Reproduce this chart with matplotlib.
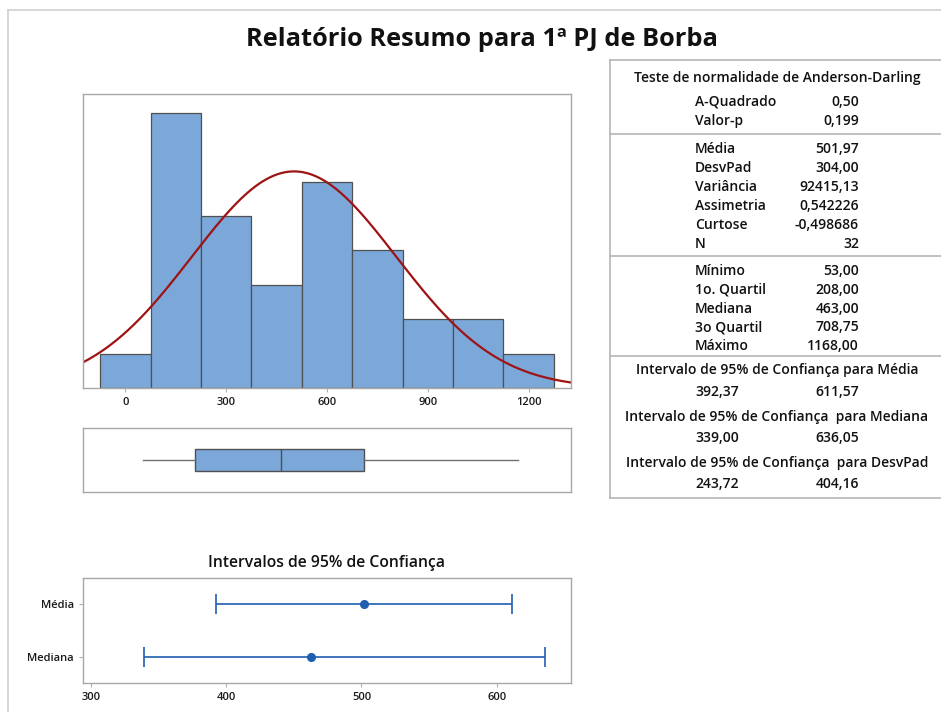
import matplotlib.pyplot as plt
import numpy as np
from matplotlib.lines import Line2D

# histogram data (bin centres, bin width 150)
bin_centers = [0, 150, 300, 450, 600, 750, 900, 1050, 1200]
counts = [1, 8, 5, 3, 6, 4, 2, 2, 1]
bin_width = 150
hist_ticks = [0, 300, 600, 900, 1200]

# summary statistics
mean = 501.97
stdev = 304.00
n_obs = 32
minimum = 53.00
q1 = 208.00
median = 463.00
q3 = 708.75
maximum = 1168.00

# confidence intervals
ci_labels = ["Mediana", "Média"]
ci_centers = [median, mean]
ci_low = [339.00, 392.37]
ci_high = [636.05, 611.57]
ci_ticks = [300, 400, 500, 600]

# table text
ad_rows = [("A-Quadrado", "0,50"), ("Valor-p", "0,199")]
mom_rows = [("Média", "501,97"), ("DesvPad", "304,00"), ("Variância", "92415,13"),
            ("Assimetria", "0,542226"), ("Curtose", "-0,498686"), ("N", "32")]
quant_rows = [("Mínimo", "53,00"), ("1o. Quartil", "208,00"), ("Mediana", "463,00"),
              ("3o Quartil", "708,75"), ("Máximo", "1168,00")]
ci_rows = [("Intervalo de 95% de Confiança para Média", "392,37", "611,57"),
           ("Intervalo de 95% de Confiança  para Mediana", "339,00", "636,05"),
           ("Intervalo de 95% de Confiança  para DesvPad", "243,72", "404,16")]

W, H = 941, 712
plt.rcParams['font.family'] = ['Open Sans', 'DejaVu Sans']
fig = plt.figure(figsize=(W / 100, H / 100), dpi=100)

BAR = "#7ba7d9"
EDGE = "#505050"
FRAME = "#a8a8a8"
BLUE = "#1f5fb0"
TICKFONT = dict(fontsize=8, fontweight="semibold", color="#1a1a1a")


def px_axes(x0, y0, x1, y1):
    return fig.add_axes([x0 / W, 1 - y1 / H, (x1 - x0) / W, (y1 - y0) / H])


def style_frame(ax):
    for s in ax.spines.values():
        s.set_color(FRAME)
        s.set_linewidth(1.0)
    ax.tick_params(color="#b0b0b0", length=3)


def ftext(x, y, s, **kw):
    fig.text(x / W, 1 - y / H, s, va="center", fontsize=10,
             fontweight="semibold", color="#111111", **kw)


def fline(x0, y0, x1, y1, color="#b5b5b5"):
    fig.add_artist(Line2D([x0 / W, x1 / W], [1 - y0 / H, 1 - y1 / H],
                          color=color, lw=1.2))


# outer frame
fline(8, 10, W, 10, "#cfcfcf")
fline(8, 10, 8, H, "#cfcfcf")

fig.text(482 / W, 1 - 40 / H, "Relatório Resumo para 1ª PJ de Borba",
         ha="center", va="center", fontsize=18.3, fontweight="bold", color="#111111")

xlim = (-126, 1326)

# histogram with fitted normal curve
ax1 = px_axes(83, 94, 571, 388)
ax1.bar(bin_centers, counts, width=bin_width, color=BAR, edgecolor=EDGE, linewidth=0.9)
xs = np.linspace(xlim[0], xlim[1], 400)
pdf = n_obs * bin_width / (stdev * np.sqrt(2 * np.pi)) * np.exp(-0.5 * ((xs - mean) / stdev) ** 2)
ax1.plot(xs, pdf, color="#9e1414", lw=1.6)
ax1.set_xlim(xlim)
ax1.set_ylim(0, 8.55)
ax1.set_xticks(hist_ticks, [str(t) for t in hist_ticks], **TICKFONT)
ax1.set_yticks([])
style_frame(ax1)

# boxplot
ax2 = px_axes(83, 428, 571, 492)
stats = [dict(whislo=minimum, q1=q1, med=median, q3=q3, whishi=maximum, fliers=[])]
ax2.bxp(stats, positions=[0.5], widths=0.34, vert=False, patch_artist=True, showcaps=False,
        boxprops=dict(facecolor=BAR, edgecolor=EDGE, linewidth=1.0),
        medianprops=dict(color=EDGE, linewidth=1.0),
        whiskerprops=dict(color="#707070", linewidth=1.0))
ax2.set_xlim(xlim)
ax2.set_ylim(0, 1)
ax2.set_xticks([])
ax2.set_yticks([])
style_frame(ax2)

# confidence intervals
ax3 = px_axes(83, 578, 571, 683)
ypos = np.arange(1, len(ci_labels) + 1)
err = [np.array(ci_centers) - np.array(ci_low), np.array(ci_high) - np.array(ci_centers)]
ax3.errorbar(ci_centers, ypos, xerr=err, fmt="o", color=BLUE, ecolor=BLUE,
             markersize=5.5, capsize=7.5, elinewidth=1.2, capthick=1.2)
ax3.set_xlim(294, 655)
ax3.set_ylim(0.5, 2.5)
ax3.set_yticks(ypos, ci_labels, **TICKFONT)
ax3.set_xticks(ci_ticks, [str(t) for t in ci_ticks], **TICKFONT)
style_frame(ax3)
fig.text(327 / W, 1 - 563 / H, "Intervalos de 95% de Confiança", ha="center", va="center",
         fontsize=11.3, fontweight="semibold", color="#111111")

# summary table
fline(610, 60, W, 60)
fline(610, 134, W, 134)
fline(610, 256, W, 256)
fline(610, 356, W, 356)
fline(610, 498, W, 498)
fline(610, 60, 610, 498)

ftext(777, 78, "Teste de normalidade de Anderson-Darling", ha="center")
lab_x, val_x = 695, 859
for i, (lab, val) in enumerate(ad_rows):
    y = 102 + i * 19
    ftext(lab_x, y, lab, ha="left")
    ftext(val_x, y, val, ha="right")
for i, (lab, val) in enumerate(mom_rows):
    y = 149 + i * 18.9
    ftext(lab_x, y, lab, ha="left")
    ftext(val_x, y, val, ha="right")
for i, (lab, val) in enumerate(quant_rows):
    y = 271 + i * 18.8
    ftext(lab_x, y, lab, ha="left")
    ftext(val_x, y, val, ha="right")
for i, (head, lo, hi) in enumerate(ci_rows):
    y = 370 + i * 46.5
    ftext(777, y, head, ha="center")
    ftext(lab_x, y + 21.5, lo, ha="left")
    ftext(val_x, y + 21.5, hi, ha="right")

fig.savefig("out.png", dpi=100)
